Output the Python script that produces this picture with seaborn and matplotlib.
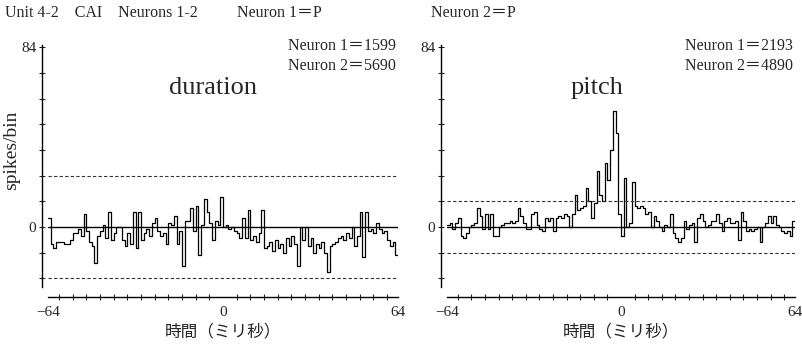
import matplotlib
matplotlib.use("Agg")
import matplotlib.pyplot as plt
import numpy as np
import pandas as pd
import seaborn as sns

# 時間軸 (ミリ秒) : -64 ~ 64, 1 ms bin
bin_edges = np.arange(-64, 65)

# duration (Neuron 1=1599, Neuron 2=5690)
duration_counts = [
    4, -8, -10, -7, -7, -7, -8, -8, -6, -3, -3, -1, -4, 6, -2, -7,
    -9, -17, -4, -2, 1, -5, 7, -6, -3, 0, 0, -6, -9, -3, -8, 7,
    -10, 7, -6, -3, -1, -4, 2, 4, -2, -4, -3, -8, 2, 1, 5, -8,
    -2, -18, 3, 3, 9, -2, 10, -13, 1, 13, 7, 2, -6, 3, 1, 14,
    0, 1, -1, 0, -2, -3, -5, 4, -5, 8, -6, -4, -7, -3, 8, -10,
    -9, -7, -11, -6, -10, -8, -12, -5, -9, -4, -8, -18, 0, -6, 0, -9,
    -5, -12, -8, -10, -7, -12, -21, -9, -8, -7, -5, -4, -6, -3, -5, 0,
    -9, -4, 7, -14, 7, -2, -1, -3, 2, -1, -3, -2, -6, -9, -7, -13,
]

# pitch (Neuron 1=2193, Neuron 2=4890)
pitch_counts = [
    1, 2, -1, 2, 4, -4, -5, -3, 0, 1, 2, 9, 5, -1, 6, -1,
    6, -4, -4, 0, 1, 2, 2, 3, 2, 3, 9, 5, 2, -1, -1, 6,
    7, 1, -1, -2, 4, 3, 4, -2, 4, 5, 4, 6, 5, 0, 6, 15,
    8, 9, 10, 18, 12, 4, 11, 26, 15, 12, 30, 22, 36, 54, 44, 6,
    -4, 23, 0, 2, 21, 10, 9, 10, 9, 6, 7, 0, 5, 3, 0, -2,
    1, 0, 6, -3, -5, -7, -5, 3, -1, 1, 2, -7, 4, 6, 3, 0,
    1, 3, 3, 6, 2, -2, 3, 4, 2, 2, 3, -6, 7, 3, -2, -1,
    -2, -1, 0, -7, 0, 2, 5, 2, 5, 1, 0, -2, -3, -2, -4, 3,
]

panels = [
    ("duration", -3.6, duration_counts, 24, "Neuron 1＝1599\nNeuron 2＝5690"),
    ("pitch", -9, pitch_counts, 12, "Neuron 1＝2193\nNeuron 2＝4890"),
]

sns.set_theme(style="ticks")
serif = ["Liberation Serif", "Noto Sans CJK JP"]
gothic = ["Noto Sans CJK JP", "DejaVu Sans"]
plt.rcParams["font.family"] = serif

fig = plt.figure(figsize=(8.03, 3.48), dpi=100)
rects = [
    [48 / 803, 61 / 348, 350 / 803, 242 / 348],
    [447 / 803, 61 / 348, 348 / 803, 242 / 348],
]

for rect, (name, name_x, counts, limit, neurons) in zip(rects, panels):
    ax = fig.add_axes(rect)
    df = pd.DataFrame({"t": bin_edges, "n": list(counts) + [counts[-1]]})
    sns.lineplot(data=df, x="t", y="n", ax=ax, color="black", lw=0.9,
                 drawstyle="steps-post", estimator=None)

    # 基準線と有意水準
    ax.axhline(0, color="black", lw=1.0)
    for lv in (limit, -limit):
        ax.axhline(lv, color="#333333", lw=0.8, ls=(0, (3, 2)))

    ax.set_xlim(-64, 64)
    ax.set_ylim(-28, 85)
    yt = np.arange(-24, 85, 12)
    ax.set_yticks(yt)
    ax.set_yticklabels(["0" if v == 0 else "84" if v == 84 else "" for v in yt], fontsize=12)
    ax.tick_params(axis="y", direction="inout", length=5, width=0.8, pad=2)
    ax.set_xticks([-64, 0, 64])
    ax.set_xticklabels(["−64", "0", "64"], fontsize=11, family=gothic)
    ax.set_xticks(np.arange(-60, 61, 5), minor=True)
    ax.tick_params(axis="x", which="major", length=0, pad=7)
    ax.tick_params(axis="x", which="minor", direction="inout", length=5, width=0.8)
    ax.set_xlabel("時間（ミリ秒）", fontsize=12, family=gothic, labelpad=3)
    ax.set_ylabel("")
    for s in ("left", "bottom"):
        ax.spines[s].set_linewidth(1.0)
        ax.spines[s].set_color("black")
    sns.despine(ax=ax, offset={"left": 4, "bottom": 7})

    ax.text(0.995, 1.03, neurons, transform=ax.transAxes, ha="right", va="top",
            fontsize=11.5, linespacing=1.35)
    ax.text(name_x, 65, name, ha="center", va="center", fontsize=19)

fig.text(12 / 803, 1 - 150 / 348, "spikes/bin", rotation=90, ha="center", va="center", fontsize=14)
fig.text(5 / 803, 1 - 13 / 348, "Unit 4-2    CAI    Neurons 1-2", ha="left", va="center", fontsize=11.5)
fig.text(237 / 803, 1 - 13 / 348, "Neuron 1＝P", ha="left", va="center", fontsize=11.5)
fig.text(431 / 803, 1 - 13 / 348, "Neuron 2＝P", ha="left", va="center", fontsize=11.5)

fig.savefig("out.png", dpi=100, facecolor="white")
